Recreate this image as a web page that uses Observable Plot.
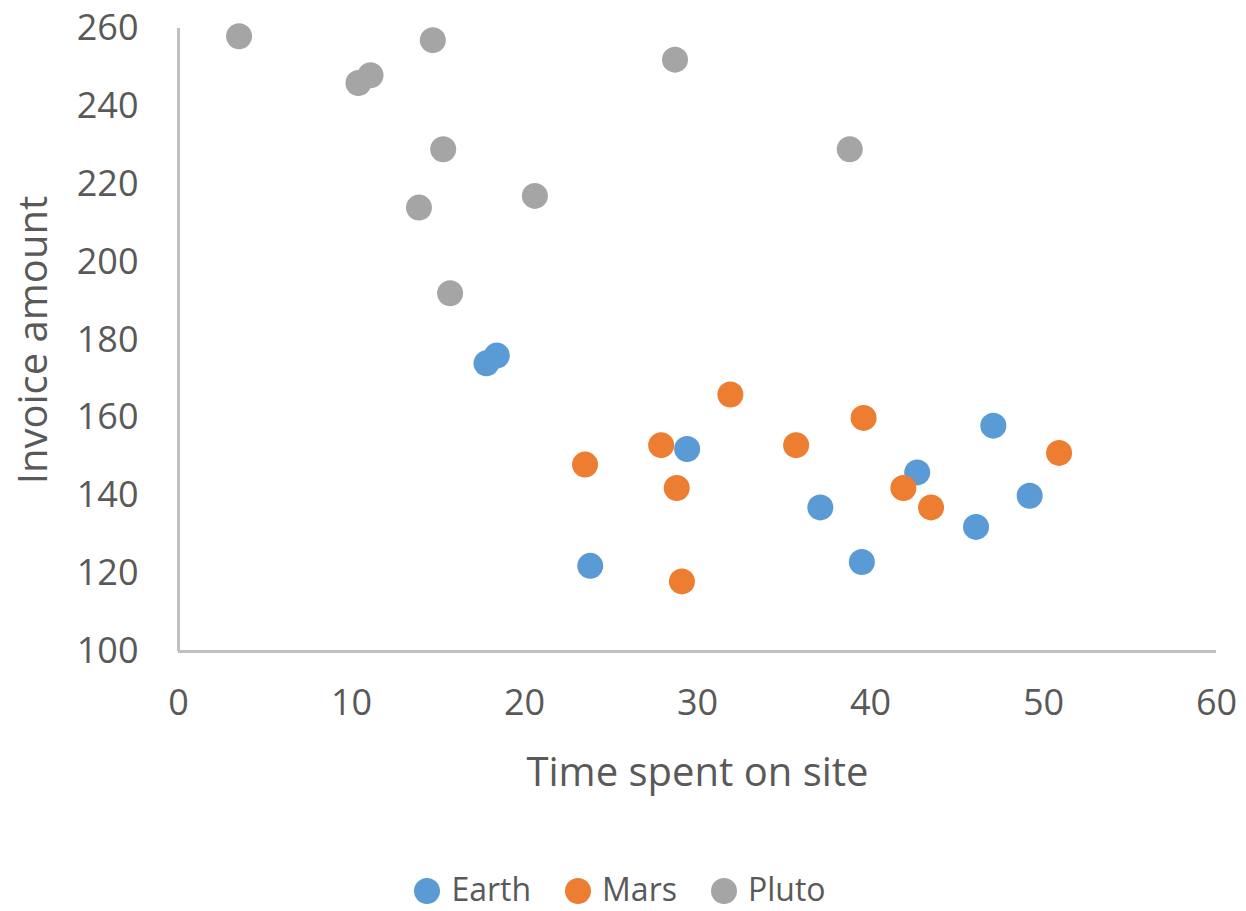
<!DOCTYPE html>
<html>
<head>
<meta charset="utf-8">
<script src="https://cdn.jsdelivr.net/npm/d3@7"></script>
<script src="https://cdn.jsdelivr.net/npm/@observablehq/plot@0.6"></script>
<style>
  html, body { margin: 0; padding: 0; background: #fff; }
  body { width: 1246px; height: 911px; overflow: hidden; position: relative; font-family: "Open Sans", "Noto Sans", sans-serif; color: #595959; }
  #legend { position: absolute; left: 0; right: 0; top: 872px; height: 34px; line-height: 34px; display: flex; justify-content: center; align-items: center; gap: 34px; font-size: 32px; padding-right: 6px; }
  .item { display: flex; align-items: center; gap: 11px; }
  .sw { width: 26px; height: 26px; border-radius: 50%; display: inline-block; transform: translateY(2px); }
</style>
</head>
<body>
<div id="chart"></div>
<div id="legend"></div>
<script>
const seriesNames = ["Earth", "Mars", "Pluto"];
const seriesColors = ["#5B9BD5", "#ED7D31", "#A5A5A5"];

const earthTime = [17.8, 18.4, 29.4, 23.8, 37.1, 39.5, 42.7, 46.1, 47.1, 49.2];
const earthInvoice = [174, 176, 152, 122, 137, 123, 146, 132, 158, 140];

const marsTime = [23.5, 27.9, 28.8, 29.1, 31.9, 35.7, 39.6, 41.9, 43.5, 50.9];
const marsInvoice = [148, 153, 142, 118, 166, 153, 160, 142, 137, 151];

const plutoTime = [3.5, 10.4, 11.1, 14.7, 28.7, 15.3, 38.8, 13.9, 20.6, 15.7];
const plutoInvoice = [258, 246, 248, 257, 252, 229, 229, 214, 217, 192];

const xTicks = [0, 10, 20, 30, 40, 50, 60];
const yTicks = [100, 120, 140, 160, 180, 200, 220, 240, 260];

const data = [
  ...earthTime.map((t, i) => ({series: "Earth", time: t, invoice: earthInvoice[i]})),
  ...marsTime.map((t, i) => ({series: "Mars", time: t, invoice: marsInvoice[i]})),
  ...plutoTime.map((t, i) => ({series: "Pluto", time: t, invoice: plutoInvoice[i]}))
];

const chart = Plot.plot({
  width: 1246,
  height: 820,
  marginLeft: 178,
  marginRight: 30,
  marginTop: 28,
  marginBottom: 169,
  style: {fontFamily: '"Open Sans", "Noto Sans", sans-serif', fontSize: "36px", color: "#595959", background: "#fff", overflow: "visible"},
  x: {domain: [0, 60]},
  y: {domain: [100, 260]},
  color: {domain: seriesNames, range: seriesColors},
  marks: [
    Plot.axisX({ticks: xTicks, tickSize: 0, tickPadding: 38, fontSize: 36, label: "Time spent on site", labelAnchor: "center", labelArrow: "none", labelOffset: 134}),
    Plot.axisY({ticks: yTicks, tickSize: 0, tickPadding: 40, fontSize: 36, label: "Invoice amount", labelAnchor: "center", labelArrow: "none", labelOffset: 160}),
    Plot.ruleX([0], {stroke: "#BFBFBF", strokeWidth: 3}),
    Plot.ruleY([100], {stroke: "#BFBFBF", strokeWidth: 3}),
    Plot.dot(data, {x: "time", y: "invoice", fill: "series", r: 13, stroke: "none"})
  ]
});
chart.querySelectorAll("g[aria-label='x-axis label'] text, g[aria-label='y-axis label'] text").forEach(t => t.setAttribute("font-size", "40"));
document.getElementById("chart").appendChild(chart);

const legend = document.getElementById("legend");
seriesNames.forEach((name, i) => {
  const item = document.createElement("div");
  item.className = "item";
  const sw = document.createElement("span");
  sw.className = "sw";
  sw.style.background = seriesColors[i];
  const label = document.createElement("span");
  label.textContent = name;
  item.appendChild(sw);
  item.appendChild(label);
  legend.appendChild(item);
});
</script>
</body>
</html>
